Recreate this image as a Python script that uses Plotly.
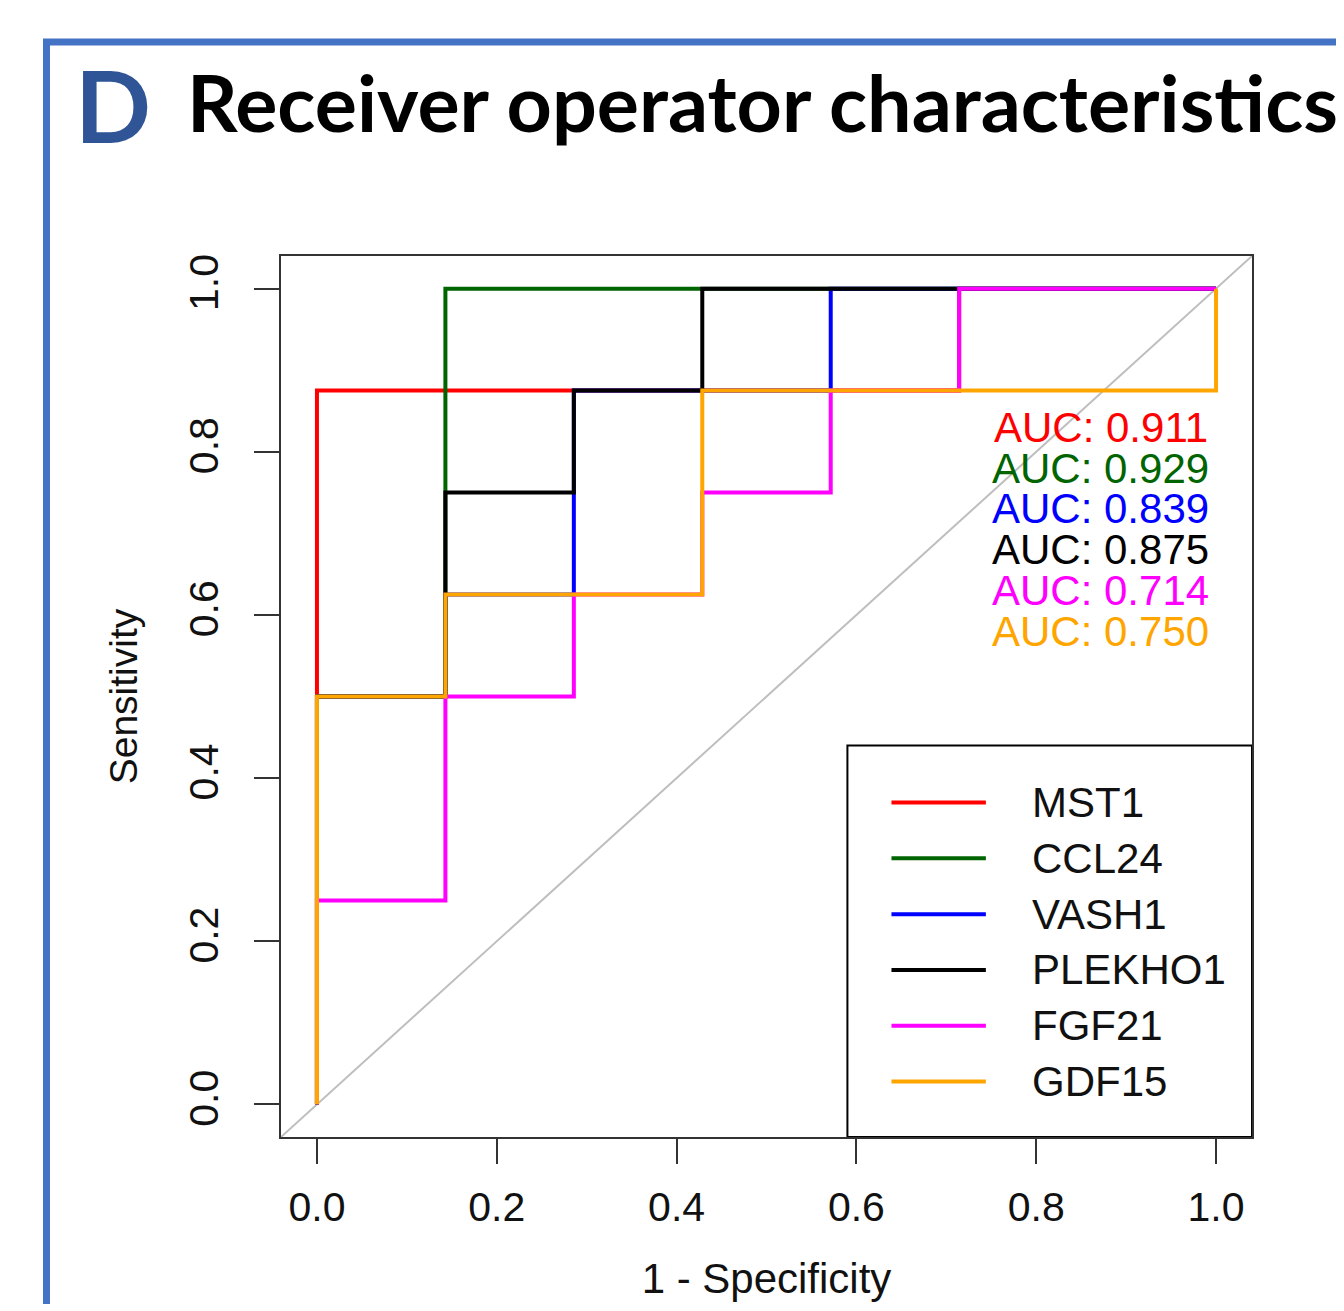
import plotly.graph_objects as go

# ---- data -----------------------------------------------------------------
markers = ["MST1", "CCL24", "VASH1", "PLEKHO1", "FGF21", "GDF15"]
colors = ["#FF0000", "#006400", "#0000FF", "#000000", "#FF00FF", "#FFA500"]
auc_values = [0.911, 0.929, 0.839, 0.875, 0.714, 0.750]

# ROC vertices: x = 1 - specificity, y = sensitivity
fpr_mst1 = [0, 0, 5/7, 5/7, 1]
tpr_mst1 = [0, 0.875, 0.875, 1, 1]
fpr_ccl24 = [0, 0, 1/7, 1/7, 1]
tpr_ccl24 = [0, 0.5, 0.5, 1, 1]
fpr_vash1 = [0, 0, 1/7, 1/7, 2/7, 2/7, 4/7, 4/7, 1]
tpr_vash1 = [0, 0.5, 0.5, 0.625, 0.625, 0.875, 0.875, 1, 1]
fpr_plekho1 = [0, 0, 1/7, 1/7, 2/7, 2/7, 3/7, 3/7, 1]
tpr_plekho1 = [0, 0.5, 0.5, 0.75, 0.75, 0.875, 0.875, 1, 1]
fpr_fgf21 = [0, 0, 1/7, 1/7, 2/7, 2/7, 3/7, 3/7, 4/7, 4/7, 5/7, 5/7, 1]
tpr_fgf21 = [0, 0.25, 0.25, 0.5, 0.5, 0.625, 0.625, 0.75, 0.75, 0.875, 0.875, 1, 1]
fpr_gdf15 = [0, 0, 1/7, 1/7, 3/7, 3/7, 1, 1]
tpr_gdf15 = [0, 0.5, 0.5, 0.625, 0.625, 0.875, 0.875, 1]

tick_vals = [0, 0.2, 0.4, 0.6, 0.8, 1.0]
tick_text = ["0.0", "0.2", "0.4", "0.6", "0.8", "1.0"]

curves = [
    (fpr_mst1, tpr_mst1),
    (fpr_ccl24, tpr_ccl24),
    (fpr_vash1, tpr_vash1),
    (fpr_plekho1, tpr_plekho1),
    (fpr_fgf21, tpr_fgf21),
    (fpr_gdf15, tpr_gdf15),
]

# ---- layout geometry (page pixels; the page body adds an 8px offset) -------
OFF = 8
FW, FH = 1336, 1296
L, R, T, B = 281, 1252, 256, 1137   # plot area in page pixels


def px_x(p):
    return (p - L) / (R - L)


def px_y(p):
    return (B - p) / (B - T)


AX = "Liberation Sans, Arial, sans-serif"

fig = go.Figure()
for name, col, (fx, ty) in zip(markers, colors, curves):
    fig.add_trace(go.Scatter(x=fx, y=ty, mode="lines", name=name,
                             line=dict(color=col, width=4),
                             showlegend=False, hoverinfo="skip"))

shapes = []
# chance diagonal
shapes.append(dict(type="line", xref="x", yref="y", x0=-0.04, y0=-0.04,
                   x1=1.04, y1=1.04, line=dict(color="#BEBEBE", width=2),
                   layer="below"))

annotations = []
# AUC labels
for i, (col, a) in enumerate(zip(colors, auc_values)):
    annotations.append(dict(xref="x", yref="y", x=0.872, y=0.83 - 0.05 * i,
                            text=f"AUC: {a:.3f}", showarrow=False,
                            xanchor="center", yanchor="middle",
                            font=dict(family=AX, size=42, color=col)))

# legend box
shapes.append(dict(type="rect", xref="x", yref="y", x0=0.59, x1=1.04,
                   y0=-0.04, y1=0.44, line=dict(color="#000000", width=2),
                   fillcolor="white", layer="above"))
for i, (name, col) in enumerate(zip(markers, colors)):
    yy = 0.370 - 0.0684 * i
    shapes.append(dict(type="line", xref="x", yref="y", x0=0.639, x1=0.744,
                       y0=yy, y1=yy, line=dict(color=col, width=4),
                       layer="above"))
    annotations.append(dict(xref="x", yref="y", x=0.793, y=yy, text=name,
                            showarrow=False, xanchor="left", yanchor="middle",
                            font=dict(family=AX, size=42, color="#111111")))

# blue panel frame
shapes.append(dict(type="rect", xref="paper", yref="paper",
                   x0=px_x(46.5), x1=px_x(1420), y0=px_y(1420), y1=px_y(42),
                   line=dict(color="#4472C4", width=7), fillcolor="rgba(0,0,0,0)"))

# panel title
annotations.append(dict(xref="paper", yref="paper", x=px_x(73), y=px_y(104),
                        text="<b>D</b>", showarrow=False, xanchor="left",
                        yanchor="middle",
                        font=dict(family="Lato", size=100, color="#2F5597")))
annotations.append(dict(xref="paper", yref="paper", x=px_x(185), y=px_y(102),
                        text="<b>Receiver operator characteristics</b>",
                        showarrow=False, xanchor="left", yanchor="middle",
                        font=dict(family="Lato", size=79, color="#000000")))

axis_common = dict(range=[-0.04, 1.04], tickvals=tick_vals, ticktext=tick_text,
                   ticks="outside", ticklen=25, tickwidth=2, tickcolor="#333333",
                   showgrid=False, zeroline=False, showline=True, mirror=True,
                   linecolor="#333333", linewidth=2,
                   tickfont=dict(family=AX, size=41, color="#111111"))

fig.update_layout(
    width=FW, height=FH,
    margin=dict(l=L - OFF, r=FW - (R - OFF), t=T - OFF, b=FH - (B - OFF),
                autoexpand=False),
    paper_bgcolor="white", plot_bgcolor="white",
    xaxis=dict(**axis_common, ticklabelstandoff=8,
               title=dict(text="1 - Specificity", standoff=34,
                          font=dict(family=AX, size=42, color="#111111"))),
    yaxis=dict(**axis_common, tickangle=-90, ticklabelstandoff=20,
               title=dict(text="Sensitivity", standoff=31,
                          font=dict(family=AX, size=39, color="#111111"))),
    shapes=shapes, annotations=annotations,
)

fig.write_html("out.html")
